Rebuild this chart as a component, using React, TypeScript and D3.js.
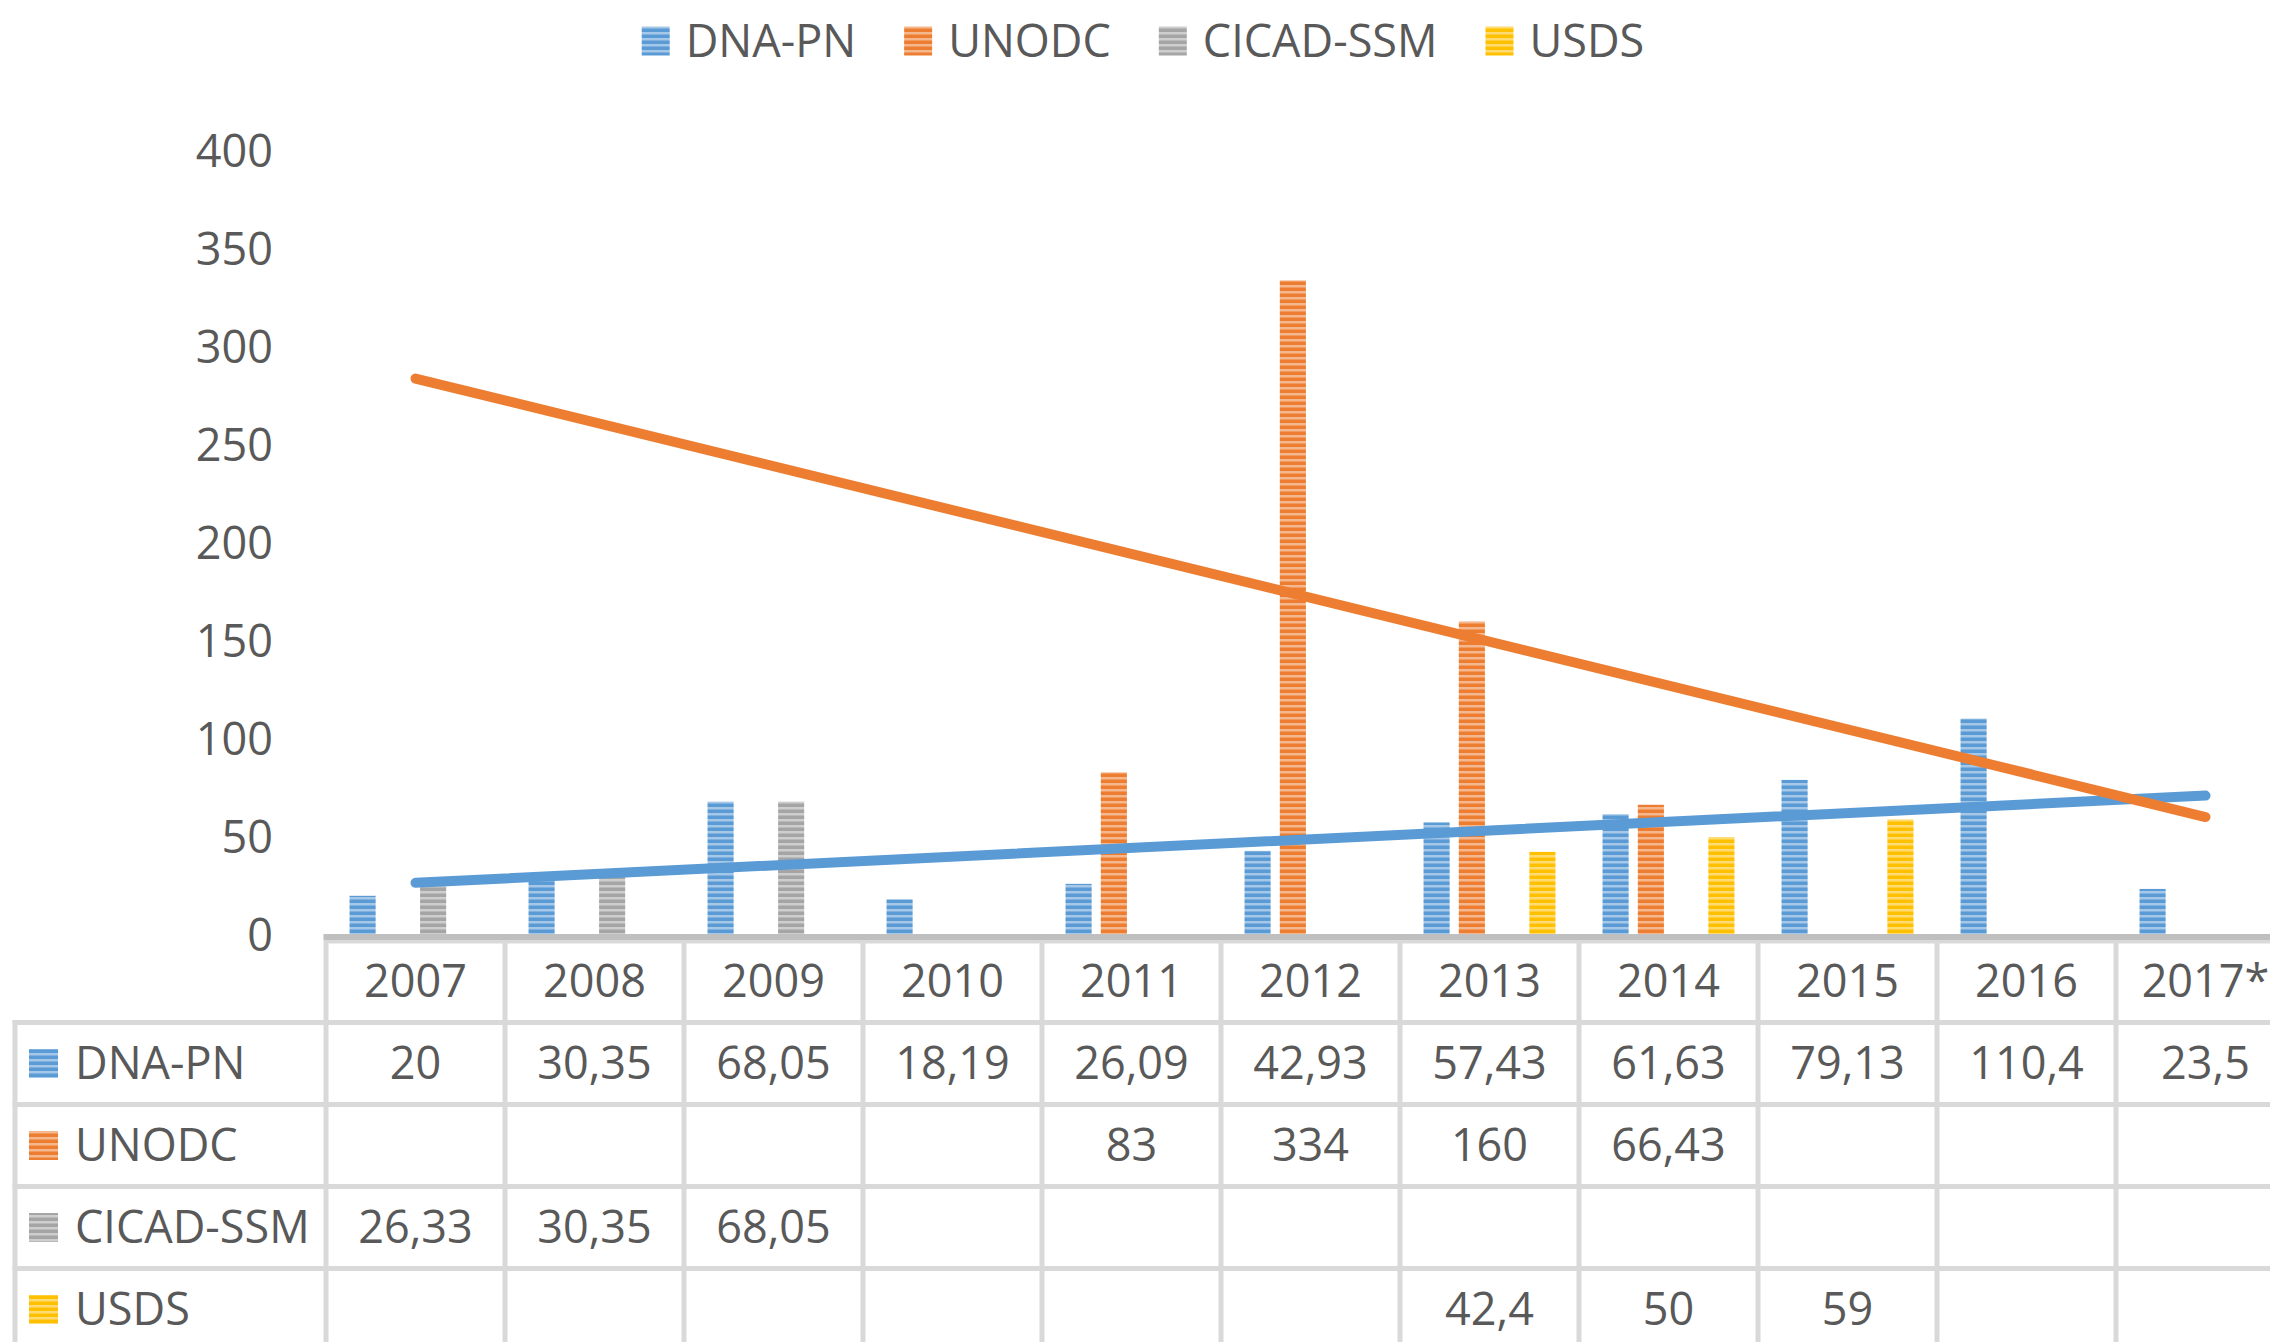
import React, { useEffect, useRef } from 'react';
import * as d3 from 'd3';

const years = ['2007', '2008', '2009', '2010', '2011', '2012', '2013', '2014', '2015', '2016', '2017*'];
const seriesNames = ['DNA-PN', 'UNODC', 'CICAD-SSM', 'USDS'];
const seriesColors = ['#5B9BD5', '#ED7D31', '#A5A5A5', '#FFC000'];

const dnaPn = [20, 30.35, 68.05, 18.19, 26.09, 42.93, 57.43, 61.63, 79.13, 110.4, 23.5];
const unodc = [null, null, null, null, 83, 334, 160, 66.43, null, null, null];
const cicadSsm = [26.33, 30.35, 68.05, null, null, null, null, null, null, null, null];
const usds = [null, null, null, null, null, null, 42.4, 50, 59, null, null];

const yTicks = [0, 50, 100, 150, 200, 250, 300, 350, 400];

// series that get a linear trendline
const trendSeries = [0, 1];

const W = 2270, H = 1342;
const FONT = "'Open Sans', 'Noto Sans', sans-serif";
const FS = 45;
const TXT = '#595959';

// least squares on category index (like Excel's linear trendline)
function linearFit(vals: (number | null)[]) {
  const pts = vals.map((v, i) => [i + 1, v]).filter(p => p[1] != null) as number[][];
  const mx = d3.mean(pts, p => p[0])!;
  const my = d3.mean(pts, p => p[1])!;
  const sxy = d3.sum(pts, p => (p[0] - mx) * (p[1] - my));
  const sxx = d3.sum(pts, p => (p[0] - mx) ** 2);
  const slope = sxy / sxx;
  return (x: number) => my + slope * (x - mx);
}

const fmt = (v: number | null) => (v == null ? '' : String(v).replace('.', ','));

const App = () => {
  const ref = useRef<SVGSVGElement>(null);

  useEffect(() => {
    document.body.style.margin = '0';
    const svg = d3.select(ref.current);
    svg.selectAll('*').remove();

    const data = [dnaPn, unodc, cicadSsm, usds];

    const plotLeft = 326, colW = 179;
    const baseY = 935;

    const x0 = d3.scaleBand().domain(years).range([plotLeft, plotLeft + years.length * colW]).padding(0);
    const x1 = d3.scaleBand().domain(seriesNames).range([0, x0.bandwidth()]).paddingInner(0.26).paddingOuter(0.667);
    const y = d3.scaleLinear().domain([0, 400]).range([baseY, 151]);

    // striped fill patterns
    const defs = svg.append('defs');
    seriesColors.forEach((c, i) => {
      const p = defs.append('pattern')
        .attr('id', 'stripe' + i)
        .attr('patternUnits', 'userSpaceOnUse')
        .attr('width', 8).attr('height', 6);
      p.append('rect').attr('width', 8).attr('height', 6).attr('fill', c);
      p.append('rect').attr('y', 3).attr('width', 8).attr('height', 2.5)
        .attr('fill', d3.interpolateRgb(c, '#ffffff')(0.45));
    });

    // y axis labels
    svg.append('g').selectAll('text').data(yTicks).enter().append('text')
      .attr('x', 273).attr('y', d => y(d))
      .attr('dy', '0.35em')
      .attr('text-anchor', 'end')
      .attr('font-family', FONT).attr('font-size', FS).attr('fill', TXT)
      .text(d => d);

    // bars
    data.forEach((vals, si) => {
      svg.append('g').selectAll('rect')
        .data(vals.map((v, i) => ({ v, year: years[i] })).filter(d => d.v != null))
        .enter().append('rect')
        .attr('x', d => x0(d.year)! + x1(seriesNames[si])!)
        .attr('y', d => y(d.v as number))
        .attr('width', x1.bandwidth())
        .attr('height', d => baseY - y(d.v as number))
        .attr('fill', `url(#stripe${si})`);
    });

    // table grid
    const headerBottom = 1022.5, rowH = 82;
    const grid = svg.append('g').attr('stroke', '#D9D9D9').attr('stroke-width', 5);
    d3.range(years.length + 1).forEach(i => {
      const xx = plotLeft + i * colW;
      grid.append('line').attr('x1', xx).attr('x2', xx).attr('y1', 940).attr('y2', H);
    });
    grid.append('line').attr('x1', 15).attr('x2', 15).attr('y1', headerBottom - 2.5).attr('y2', H);
    d3.range(seriesNames.length).forEach(r => {
      const yy = headerBottom + r * rowH;
      grid.append('line').attr('x1', 12.5).attr('x2', W).attr('y1', yy).attr('y2', yy);
    });
    grid.append('line').attr('x1', plotLeft).attr('x2', W).attr('y1', 941).attr('y2', 941);

    // axis line
    svg.append('line')
      .attr('x1', plotLeft - 2.5).attr('x2', W)
      .attr('y1', baseY + 2).attr('y2', baseY + 2)
      .attr('stroke', '#BFBFBF').attr('stroke-width', 6);

    // header years
    svg.append('g').selectAll('text').data(years).enter().append('text')
      .attr('x', d => x0(d)! + x0.bandwidth() / 2)
      .attr('y', (940 + headerBottom) / 2)
      .attr('dy', '0.35em').attr('text-anchor', 'middle')
      .attr('font-family', FONT).attr('font-size', FS).attr('fill', TXT)
      .text(d => d);

    // table rows
    data.forEach((vals, si) => {
      const cy = headerBottom + si * rowH + rowH / 2;
      const row = svg.append('g');
      row.append('rect').attr('x', 29).attr('y', cy - 14.5).attr('width', 29).attr('height', 29)
        .attr('fill', `url(#stripe${si})`);
      row.append('text').attr('x', 75).attr('y', cy).attr('dy', '0.35em')
        .attr('font-family', FONT).attr('font-size', FS).attr('fill', TXT)
        .text(seriesNames[si]);
      row.selectAll('text.val').data(vals).enter().append('text')
        .attr('class', 'val')
        .attr('x', (d, i) => x0(years[i])! + x0.bandwidth() / 2)
        .attr('y', cy).attr('dy', '0.35em').attr('text-anchor', 'middle')
        .attr('font-family', FONT).attr('font-size', FS).attr('fill', TXT)
        .text(d => fmt(d));
    });

    // trendlines
    const xc = (i: number) => x0(years[i - 1])! + x0.bandwidth() / 2;
    trendSeries.forEach(si => {
      const f = linearFit(data[si]);
      const pts = [1, years.length];
      svg.append('path')
        .datum(pts)
        .attr('d', d3.line<number>().x(d => xc(d)).y(d => y(f(d))))
        .attr('fill', 'none')
        .attr('stroke', seriesColors[si])
        .attr('stroke-width', 10)
        .attr('stroke-linecap', 'round');
    });

    // legend
    const legend = svg.append('g');
    const gap = 48;
    let cursor = 0;
    seriesNames.forEach((name, si) => {
      const g = legend.append('g');
      g.append('rect').attr('x', 0).attr('y', -14.5).attr('width', 28).attr('height', 29)
        .attr('fill', `url(#stripe${si})`);
      const t = g.append('text').attr('x', 44).attr('dy', '0.35em')
        .attr('font-family', FONT).attr('font-size', FS).attr('fill', TXT)
        .text(name);
      const w = 44 + (t.node() as SVGTextElement).getComputedTextLength();
      g.attr('transform', `translate(${cursor},0)`);
      cursor += w + gap;
    });
    const total = cursor - gap;
    legend.attr('transform', `translate(${1143 - total / 2},41)`);
  }, []);

  return <svg ref={ref} width={W} height={H} style={{ display: 'block', background: '#fff' }} />;
};

export default App;
